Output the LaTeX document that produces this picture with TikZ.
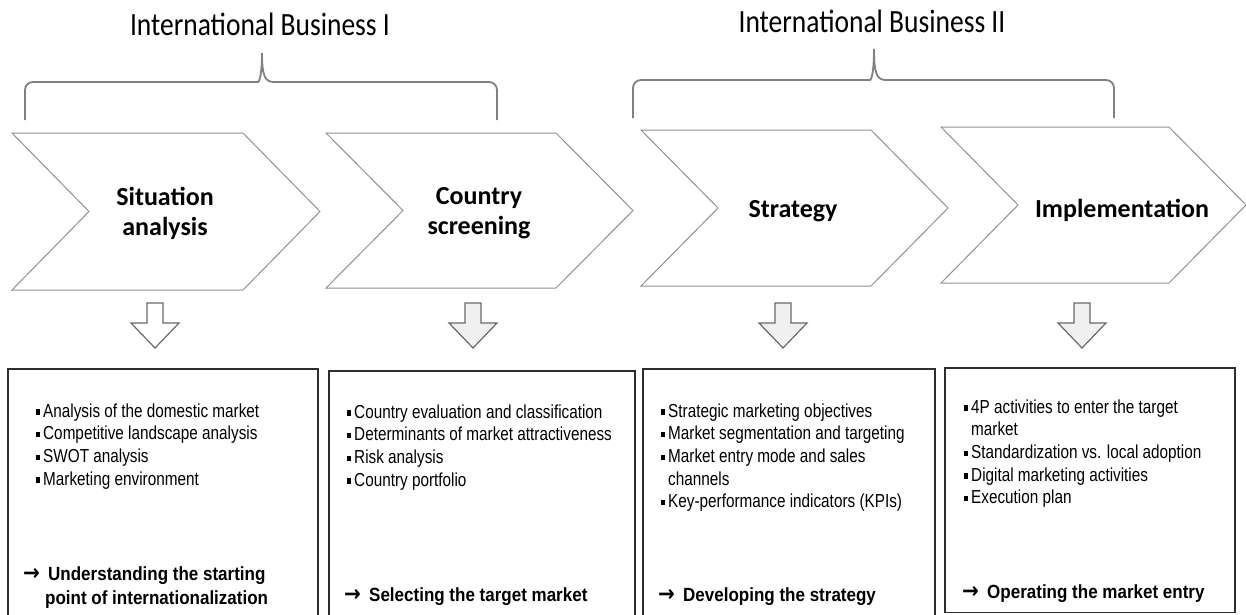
\documentclass[tikz,border=0pt]{standalone}
\usepackage{fontspec}
\setmainfont{Liberation Sans}
\newfontfamily\calibrifont{Carlito}
\newfontfamily\arrowfont{DejaVu Sans}
\definecolor{bracegray}{RGB}{128,128,128}
\definecolor{chevgray}{RGB}{145,145,145}
\definecolor{arrowgray}{RGB}{105,105,105}
\definecolor{arrowfill}{RGB}{240,240,240}
\definecolor{boxgray}{RGB}{45,45,45}
\newcommand\sqb{\makebox[9pt][l]{\hspace*{1.5pt}\rule[2pt]{4.5pt}{4.2pt}}}
\newcommand\contd{\hspace*{9pt}}
\newcommand\resarrow{\makebox[25pt][l]{\arrowfont\fontsize{20}{20}\selectfont →}}
\begin{document}
\begin{tikzpicture}[x=1pt,y=-1pt,
  brace/.style={draw=bracegray,line width=1.8pt},
  chevron/.style={draw=chevgray,line width=1pt,fill=white},
  blockarrow/.style={draw=arrowgray,line width=1.2pt},
  textbox/.style={draw=boxgray,line width=1.2pt},
  title/.style={font=\calibrifont\fontsize{27.5}{33}\selectfont,anchor=base,inner sep=0pt,yscale=1.18},
  phase/.style={font=\calibrifont\bfseries\fontsize{26}{30}\selectfont,align=center,inner sep=0pt},
  bul/.style={font=\fontsize{15.3}{18.5}\selectfont,anchor=base west,inner sep=0pt,yscale=1.23},
  result/.style={font=\bfseries\fontsize{17}{20}\selectfont,anchor=base west,inner sep=0pt,yscale=1.12}]
\fill[white] (0,0) rectangle (1246,614);
\useasboundingbox (0,0) rectangle (1246,614);
% titles and braces
\node[title] (ib1) at (260,35) {International Business I};
\node[title] (ib2) at (872,32) {International Business II};
\draw[brace] (25,120) [rounded corners=8pt] -- (25,82) -- (250,82) [sharp corners]
  .. controls (259,82) and (262,76) .. (262,53) .. controls (262,76) and (265,82) .. (274,82)
  [rounded corners=8pt] -- (497,82) -- (497,120);
\draw[brace] (633,118) [rounded corners=8pt] -- (633,80) -- (862,80) [sharp corners]
  .. controls (871,80) and (874,74) .. (874,49) .. controls (874,74) and (877,80) .. (886,80)
  [rounded corners=8pt] -- (1114,80) -- (1114,118);
% chevrons
\foreach \x/\t/\b/\w in {12/133/290/308, 326/133/288/307, 641/130/286/307, 941/127/283/305} {
  \draw[chevron] (\x,\t) -- (\x+\w-77,\t) -- (\x+\w,\t/2+\b/2) -- (\x+\w-77,\b) -- (\x,\b)
    -- (\x+77,\t/2+\b/2) -- cycle;
}
\node[phase] (situation) at (165,213) {Situation\\analysis};
\node[phase] (screening) at (479,213) {Country\\screening};
\node[phase,anchor=base] (strategy) at (793,217) {Strategy};
\node[phase,anchor=base] (implementation) at (1122,217) {Implementation};
% block arrows
\foreach \c/\f in {155/white, 473/arrowfill, 783/arrowfill, 1082/arrowfill} {
  \draw[blockarrow,fill=\f] (\c-8,303) -- (\c+8,303) -- (\c+8,323) -- (\c+24,323) -- (\c,348)
    -- (\c-24,323) -- (\c-8,323) -- cycle;
}
% boxes
\draw[textbox] (8,369) rectangle (318,617);
\draw[textbox] (329,371) rectangle (635,617);
\draw[textbox] (643,369) rectangle (935,617);
\draw[textbox] (945,368) rectangle (1235,612.5);
\foreach \t [count=\i] in {\sqb Analysis of the domestic market, \sqb Competitive landscape analysis,
  \sqb SWOT analysis, \sqb Marketing environment}
  \node[bul] (sit\i) at (34,394.3+22.7*\i) {\t};
\foreach \t [count=\i] in {\sqb Country evaluation and classification,
  \sqb Determinants of market attractiveness, \sqb Risk analysis, \sqb Country portfolio}
  \node[bul] (scr\i) at (345,395.3+22.7*\i) {\t};
\foreach \t [count=\i] in {\sqb Strategic marketing objectives, \sqb Market segmentation and targeting,
  \sqb Market entry mode and sales, \contd channels, \sqb Key-performance indicators (KPIs)}
  \node[bul] (str\i) at (659,394.3+22.7*\i) {\t};
\foreach \t [count=\i] in {\sqb 4P activities to enter the target, \contd market,
  \sqb Standardization vs. local adoption, \sqb Digital marketing activities, \sqb Execution plan}
  \node[bul] (imp\i) at (962,390.3+22.7*\i) {\t};
\node[result] (sitres1) at (23,580) {\resarrow Understanding the starting};
\node[result] (sitres2) at (45,604) {point of internationalization};
\node[result] (scrres) at (344,601) {\resarrow Selecting the target market};
\node[result] (strres) at (658,601) {\resarrow Developing the strategy};
\node[result] (impres) at (962,598) {\resarrow Operating the market entry};
\end{tikzpicture}
\end{document}
